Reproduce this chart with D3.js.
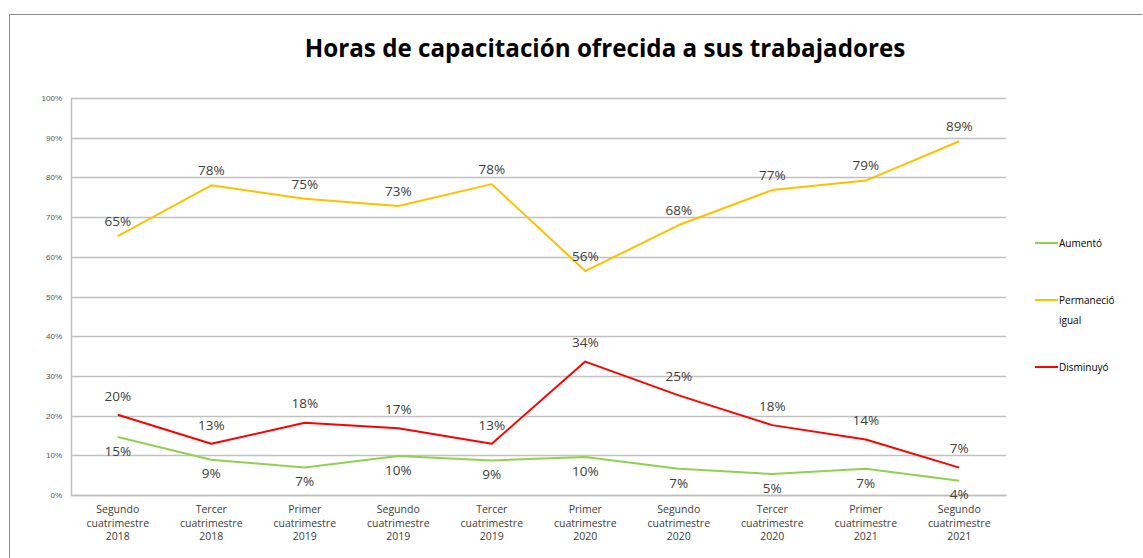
<!DOCTYPE html>
<html>
<head>
<meta charset="utf-8">
<script src="https://cdn.jsdelivr.net/npm/d3@7"></script>
<style>
  html, body { margin: 0; padding: 0; background: #fff; }
  svg { display: block; }
</style>
</head>
<body>
<svg id="chart" width="1143" height="558"></svg>
<script>
const title = "Horas de capacitación ofrecida a sus trabajadores";
const categories = [
  ["Segundo", "cuatrimestre", "2018"],
  ["Tercer", "cuatrimestre", "2018"],
  ["Primer", "cuatrimestre", "2019"],
  ["Segundo", "cuatrimestre", "2019"],
  ["Tercer", "cuatrimestre", "2019"],
  ["Primer", "cuatrimestre", "2020"],
  ["Segundo", "cuatrimestre", "2020"],
  ["Tercer", "cuatrimestre", "2020"],
  ["Primer", "cuatrimestre", "2021"],
  ["Segundo", "cuatrimestre", "2021"]
];
const aumento = [14.6, 8.9, 6.9, 9.8, 8.7, 9.6, 6.6, 5.3, 6.6, 3.6];
const permanecio = [65.2, 78.0, 74.6, 72.8, 78.3, 56.4, 68.0, 76.8, 79.2, 89.1];
const disminuyo = [20.2, 12.9, 18.2, 16.8, 12.9, 33.6, 25.1, 17.6, 14.0, 6.9];
const yTicks = [0, 10, 20, 30, 40, 50, 60, 70, 80, 90, 100];
const seriesNames = ["Aumentó", "Permaneció igual", "Disminuyó"];

const series = [
  { name: seriesNames[0], values: aumento, color: "#92d050", labelDy: 14 },
  { name: seriesNames[1], values: permanecio, color: "#ffc000", labelDy: -15 },
  { name: seriesNames[2], values: disminuyo, color: "#ff0000", labelDy: -19 }
];

const svg = d3.select("#chart");
const m = { left: 71, right: 1006, top: 98, bottom: 495 };

// outer frame (top and left edges visible)
svg.append("line").attr("x1", 9.5).attr("x2", 1142).attr("y1", 14.5).attr("y2", 14.5)
  .attr("stroke", "#8c8c8c").attr("stroke-width", 1);
svg.append("line").attr("x1", 9.5).attr("x2", 9.5).attr("y1", 14.5).attr("y2", 558)
  .attr("stroke", "#8c8c8c").attr("stroke-width", 1);

svg.append("text").attr("x", 605).attr("y", 57).attr("text-anchor", "middle")
  .attr("font-family", "'Open Sans', sans-serif").attr("font-weight", "bold")
  .attr("font-size", 24.2).attr("fill", "#000").text(title);

const x = d3.scaleBand().domain(d3.range(categories.length)).range([m.left, m.right]);
const y = d3.scaleLinear().domain([0, 100]).range([m.bottom, m.top]);

// gridlines
svg.append("g").selectAll("line").data(yTicks).join("line")
  .attr("x1", m.left).attr("x2", m.right)
  .attr("y1", d => Math.round(y(d)) + 0.5).attr("y2", d => Math.round(y(d)) + 0.5)
  .attr("stroke", "#c0c0c0").attr("stroke-width", 1.5);

// y axis
const yAxis = d3.axisLeft(y).tickValues(yTicks).tickSize(0).tickPadding(9)
  .tickFormat(d => d + "%");
const gy = svg.append("g").attr("transform", `translate(${m.left},0)`).call(yAxis);
gy.select(".domain").attr("stroke", "#bfbfbf").attr("stroke-width", 1.5);
gy.selectAll("text").attr("font-family", "'Liberation Sans', sans-serif")
  .attr("font-size", 8).attr("fill", "#555");

// x axis labels
const xAxis = d3.axisBottom(x).tickSize(0).tickFormat("");
const gx = svg.append("g").attr("transform", `translate(0,${m.bottom})`).call(xAxis);
gx.select(".domain").attr("stroke", "#bfbfbf").attr("stroke-width", 1.5);
gx.selectAll(".tick").each(function(d) {
  const t = d3.select(this).append("text")
    .attr("text-anchor", "middle")
    .attr("font-family", "'Open Sans', sans-serif").attr("font-size", 10.5)
    .attr("fill", "#404040");
  categories[d].forEach((s, i) => {
    t.append("tspan").attr("x", 0).attr("y", 18 + i * 13.5).text(s);
  });
});

const cx = i => x(i) + x.bandwidth() / 2;
const line = d3.line().x((d, i) => cx(i)).y(d => y(d));

series.forEach(s => {
  svg.append("path").datum(s.values).attr("d", line)
    .attr("fill", "none").attr("stroke", s.color).attr("stroke-width", 2)
    .attr("stroke-linejoin", "round");
});

series.forEach(s => {
  svg.append("g").selectAll("text").data(s.values).join("text")
    .attr("x", (d, i) => cx(i)).attr("y", d => y(d) + s.labelDy)
    .attr("dy", "0.35em").attr("text-anchor", "middle")
    .attr("font-family", "'Open Sans', sans-serif").attr("font-size", 13.5)
    .attr("fill", "#404040").text(d => Math.round(d) + "%");
});

// legend
const legendY = [243, 300, 367];
series.forEach((s, i) => {
  const g = svg.append("g").attr("transform", `translate(1035,${legendY[i]})`);
  g.append("line").attr("x1", 0).attr("x2", 23).attr("y1", 0).attr("y2", 0)
    .attr("stroke", s.color).attr("stroke-width", 2);
  const words = s.name === "Permaneció igual" ? ["Permaneció", "igual"] : [s.name];
  const t = g.append("text").attr("font-family", "'Open Sans', sans-serif")
    .attr("font-size", 10).attr("fill", "#000");
  words.forEach((w, k) => t.append("tspan").attr("x", 24).attr("y", 4 + k * 20).text(w));
});
</script>
</body>
</html>
